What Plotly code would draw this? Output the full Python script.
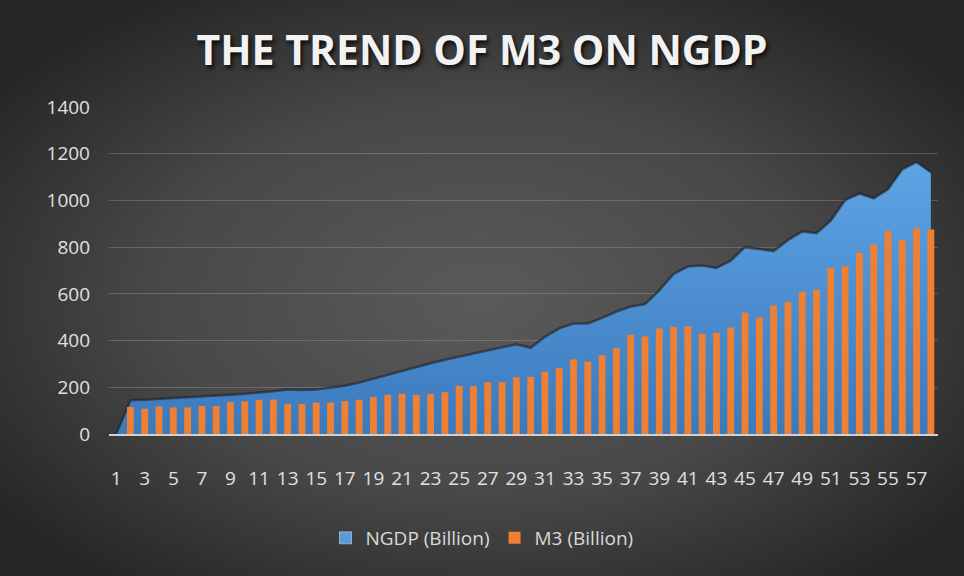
import base64
import plotly.graph_objects as go

categories = [str(i) for i in range(1, 59)]

ngdp = [0, 144, 147, 150, 153, 157, 161, 164, 168, 172,
        176, 183, 190, 188, 190, 197, 207, 220, 237, 255,
        272, 287, 303, 318, 332, 346, 360, 371, 384, 369,
        416, 452, 473, 473, 497, 524, 546, 556, 615, 685,
        717, 721, 711, 742, 800, 790, 783, 830, 867, 860,
        913, 1001, 1029, 1009, 1048, 1133, 1164, 1121]

m3 = [0, 116, 108, 118, 114, 114, 120, 120, 137, 140,
      146, 147, 129, 129, 135, 135, 141, 147, 158, 168,
      172, 168, 172, 179, 206, 206, 222, 222, 243, 245,
      267, 282, 320, 310, 338, 368, 425, 418, 452, 459,
      462, 429, 433, 456, 520, 499, 550, 565, 609, 618,
      711, 718, 775, 811, 870, 831, 880, 876]

x_ticks = [str(i) for i in range(1, 59, 2)]
y_ticks = list(range(0, 1401, 200))

W, H = 964, 576
L, R, T, B = 109, 26, 107, 142

svg = f'''<svg xmlns="http://www.w3.org/2000/svg" width="{W}" height="{H}" viewBox="0 0 {W} {H}" preserveAspectRatio="none">
<defs><radialGradient id="g" cx="50%" cy="52%" r="62%" gradientUnits="objectBoundingBox">
<stop offset="0" stop-color="#5a5a5a"/><stop offset="0.55" stop-color="#484848"/><stop offset="1" stop-color="#262626"/>
</radialGradient></defs><rect width="{W}" height="{H}" fill="url(#g)"/></svg>'''
bg_src = "data:image/svg+xml;base64," + base64.b64encode(svg.encode()).decode()

pw = W - L - R
ph = H - T - B

tickfont = dict(family="Open Sans", size=19, color="#e0e0e0")

fig = go.Figure()
# legend-only entry so the NGDP key is a square like the original
fig.add_trace(go.Bar(
    x=[None], y=[None], name="NGDP (Billion)", legendgroup="ngdp",
    marker=dict(color="#5B9BD5"), hoverinfo="skip",
))
fig.add_trace(go.Scatter(
    x=categories, y=ngdp, name="NGDP (Billion)", mode="lines",
    legendgroup="ngdp", showlegend=False,
    fill="tozeroy",
    fillgradient=dict(type="vertical", start=0, stop=1200,
                      colorscale=[[0, "#3b79bd"], [1, "#5fa5e6"]]),
    line=dict(color="rgba(25,25,25,0.55)", width=2.5),
))
fig.add_trace(go.Bar(
    x=categories, y=m3, name="M3 (Billion)", xaxis="x2", yaxis="y2",
    marker=dict(color="#EF7F33", line=dict(width=0)),
))

fig.update_layout(
    width=W, height=H,
    margin=dict(l=L, r=R, t=T, b=B),
    paper_bgcolor="#3a3a3a",
    plot_bgcolor="rgba(0,0,0,0)",
    bargap=0.52,
    barmode="overlay",
    showlegend=True,
    title=dict(text="THE TREND OF M3 ON NGDP", x=0.5, xref="container", xanchor="center",
               y=1 - 51 / H, yref="container", yanchor="middle",
               font=dict(family="Open Sans", size=41, color="#f2f2f2", weight="bold",
                         shadow="2px 3px 4px rgba(0,0,0,0.8)")),
    legend=dict(orientation="h", x=0.5, xref="container", xanchor="center",
                y=1 - 538 / H, yref="container", yanchor="middle",
                font=dict(family="Open Sans", size=19, color="#d9d9d9"),
                bgcolor="rgba(0,0,0,0)", itemwidth=30, traceorder="normal"),
    images=[dict(source=bg_src, xref="paper", yref="paper",
                 x=-L / pw, y=1 + T / ph, sizex=W / pw, sizey=H / ph,
                 xanchor="left", yanchor="top", sizing="stretch", layer="below")],
    xaxis=dict(type="category", range=[-0.5, 57.5], tickmode="array",
               categoryorder="array", categoryarray=categories,
               tickvals=x_ticks, ticktext=x_ticks, showgrid=False,
               showline=True, linecolor="#d0d0d0", linewidth=2, ticks="",
               ticklabelstandoff=26, tickfont=tickfont),
    yaxis=dict(range=[0, 1400], tickmode="array", tickvals=y_ticks,
               showgrid=True, gridcolor="rgba(255,255,255,0.18)", gridwidth=1,
               zeroline=False, showline=False, ticks="", ticklabelstandoff=18,
               tickfont=tickfont),
    xaxis2=dict(type="category", range=[-0.5, 57.5], overlaying="x", matches="x",
                categoryorder="array", categoryarray=categories, visible=False),
    yaxis2=dict(range=[0, 1400], overlaying="y", matches="y", visible=False),
)

fig.write_html("out.html")
